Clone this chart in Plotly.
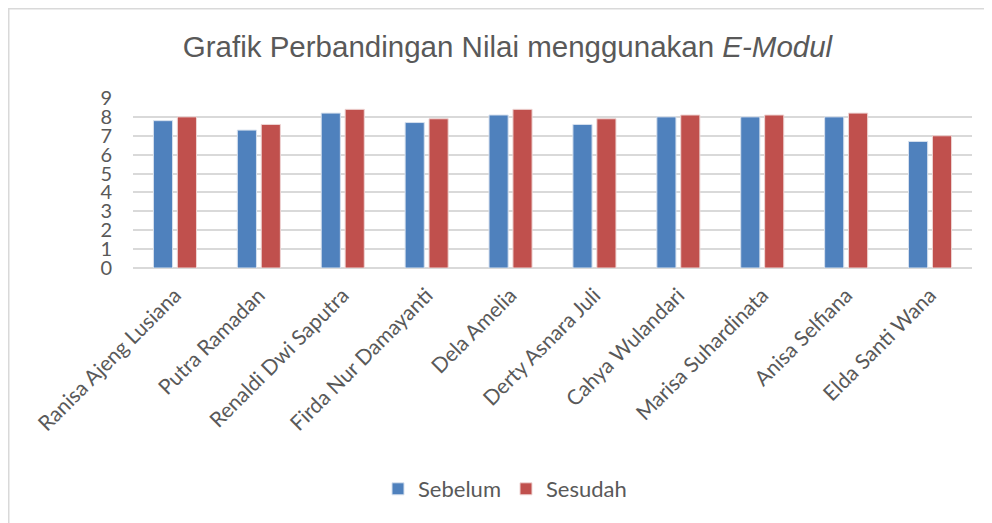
import plotly.graph_objects as go

names = ["Ranisa Ajeng Lusiana", "Putra Ramadan", "Renaldi Dwi Saputra", "Firda Nur Damayanti",
         "Dela Amelia", "Derty Asnara Juli", "Cahya Wulandari", "Marisa Suhardinata",
         "Anisa Selfiana", "Elda Santi Wana"]
sebelum = [7.8, 7.3, 8.2, 7.7, 8.1, 7.6, 8.0, 8.0, 8.0, 6.7]
sesudah = [8.0, 7.6, 8.4, 7.9, 8.4, 7.9, 8.1, 8.1, 8.2, 7.0]
y_ticks = [0, 1, 2, 3, 4, 5, 6, 7, 8, 9]

W, H = 992, 523
L, R, T, B = 125, 28, 90, 263
txt = "#595959"
font_body = "Lato, Carlito, Calibri, sans-serif"

fig = go.Figure()
fig.add_trace(go.Bar(name="Sebelum", x=names, y=sebelum,
                     marker=dict(color="#4F81BD", line=dict(color="#D6E0EE", width=1))))
fig.add_trace(go.Bar(name="Sesudah", x=names, y=sesudah,
                     marker=dict(color="#C0504D", line=dict(color="#EED5D4", width=1))))

pw = W - L - R
ph = H - T - B
# outer chart border (left/top visible)
fig.add_shape(type="rect", xref="paper", yref="paper",
              x0=(0.75 - L) / pw, x1=1 + (R + 20) / pw,
              y0=-(B + 20) / ph, y1=1 + (T - 0.75) / ph,
              line=dict(color="#D9D9D9", width=1.5), layer="below")

fig.update_layout(
    width=W, height=H,
    margin=dict(l=L, r=R, t=T, b=B, autoexpand=False),
    paper_bgcolor="white", plot_bgcolor="white",
    barmode="group", bargap=0.43, bargroupgap=0.2,
    title=dict(text="Grafik Perbandingan Nilai menggunakan <i>E-Modul</i>",
               x=499.5 / W, xanchor="center", y=1 - 39 / H, yanchor="middle",
               font=dict(family="Liberation Sans, Arial, sans-serif", size=29.5, color=txt)),
    font=dict(family=font_body, color=txt),
    legend=dict(orientation="h", x=(497 - L) / pw, xanchor="center", y=-(481 - (H - B)) / ph,
                yanchor="middle", font=dict(size=22, color=txt, family=font_body),
                itemwidth=30, traceorder="normal"),
    xaxis=dict(tickangle=-45, tickfont=dict(size=21, color=txt, family=font_body),
               showline=False, ticks="", showgrid=False, ticklabelstandoff=10),
    yaxis=dict(range=[0, 9], tickvals=y_ticks, showgrid=True, gridcolor="#D9D9D9",
               gridwidth=1.5, zeroline=True, zerolinecolor="#D9D9D9", zerolinewidth=1.5,
               tickfont=dict(size=20, color=txt, family=font_body), ticks="",
               ticklabelstandoff=20),
)
fig.write_html("out.html")
